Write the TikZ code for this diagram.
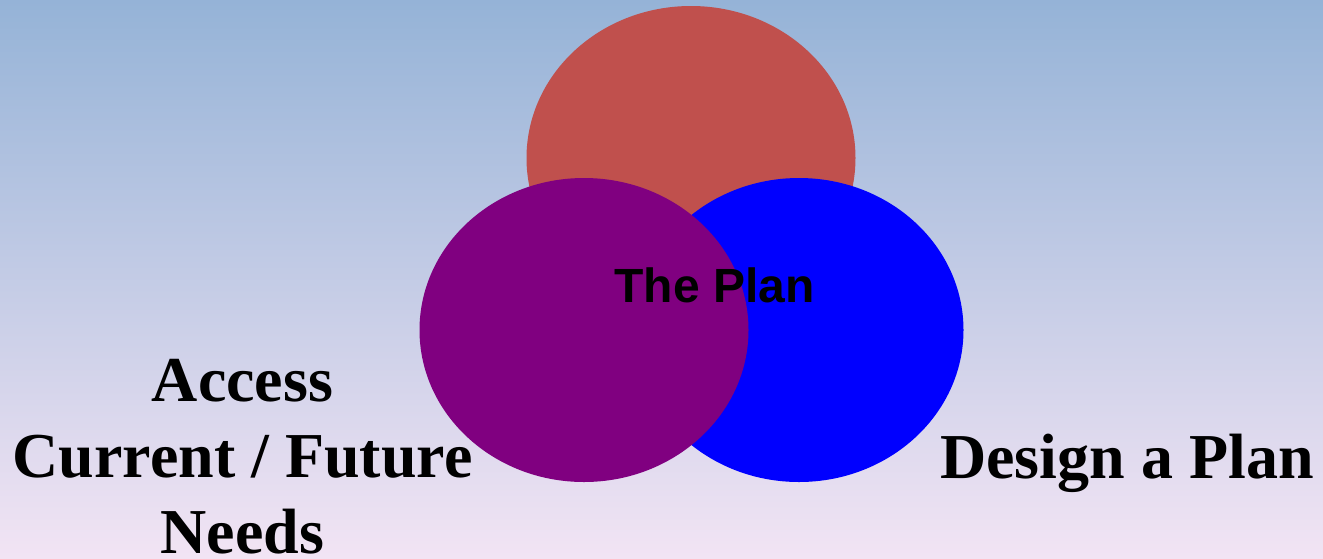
\documentclass[tikz,border=0pt]{standalone}
\usepackage{fontspec}
\usetikzlibrary{shapes.geometric}
\setmainfont{Liberation Serif}
\newfontfamily\planfont{Liberation Sans}
\definecolor{bgtop}{RGB}{149,179,215}
\definecolor{bgbottom}{RGB}{242,228,244}
\definecolor{ringred}{RGB}{192,80,77}
\definecolor{ringpurple}{RGB}{128,0,128}
\definecolor{ringblue}{RGB}{0,0,255}
\begin{document}
\begin{tikzpicture}[x=1pt,y=-1pt,
  ring/.style={ellipse,draw=none,minimum width=329pt,minimum height=304pt,inner sep=0pt},
  bigtext/.style={font=\bfseries\fontsize{64}{76}\selectfont,align=center,inner sep=0pt}]
\useasboundingbox (0,0) rectangle (1323,558);
% background
\shade[top color=bgtop,bottom color=bgbottom] (0,0) rectangle (1323,558);
% three overlapping circles
\node[ring,fill=ringred] (top) at (691,158) {};
\node[ring,fill=ringblue] (right) at (799,330) {};
\node[ring,fill=ringpurple] (left) at (584,330) {};
% labels (base anchor of a multi-line node is the last line's baseline)
\node[anchor=base,inner sep=0pt,font=\planfont\bfseries\fontsize{48}{57}\selectfont] (plan) at (714.5,302.5) {The Plan};
\node[bigtext,anchor=base] (access) at (242.5,553.5) {Access\\Current / Future\\Needs};
\node[bigtext,anchor=base] (design) at (1127,478.6) {Design a Plan};
\end{tikzpicture}
\end{document}
